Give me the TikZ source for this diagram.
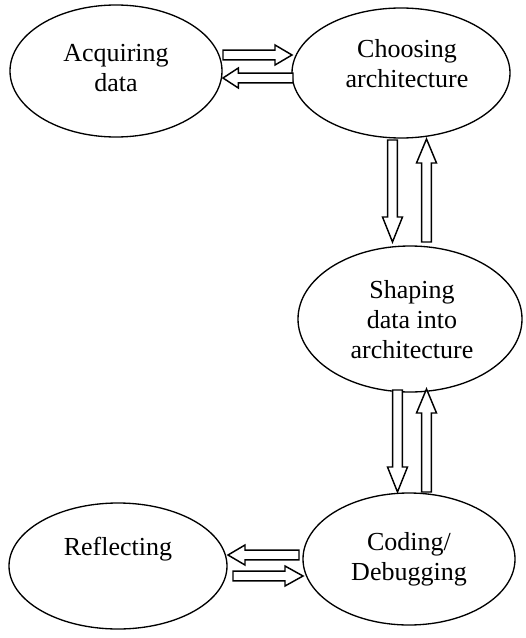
\documentclass[tikz,border=0pt]{standalone}
\usepackage{fontspec}
\setmainfont{Liberation Serif}
\usetikzlibrary{shapes.geometric,calc}

\tikzset{
  stage/.style={draw, ellipse, line width=1pt, inner sep=0pt},
  stagetext/.style={align=center, inner sep=0pt,
    font=\fontsize{19.5}{22.5}\selectfont},
  blockarr/.style={draw, fill=white, line width=1.1pt, line join=miter}
}

% hollow block arrow: [head length]{start}{tip}
\newcommand{\hollowarrow}[3][13pt]{%
  \coordinate (hb) at ($(#3)!#1!(#2)$);
  \draw[blockarr]
    ($(#2)!3.6pt!90:(#3)$) -- ($(hb)!3.6pt!-90:(#2)$) -- ($(hb)!7.5pt!-90:(#2)$)
    -- (#3) -- ($(hb)!7.5pt!90:(#2)$) -- ($(hb)!3.6pt!90:(#2)$)
    -- ($(#2)!3.6pt!-90:(#3)$) -- cycle;
}

\begin{document}
\begin{tikzpicture}[x=0.75pt, y=-0.75pt]
\useasboundingbox (0,0) rectangle (525,638);

% stages
\node[stage, minimum width=159pt, minimum height=99pt] (acq) at (116,71) {};
\node[stage, minimum width=163.5pt, minimum height=97.5pt] (cho) at (401,73) {};
\node[stage, minimum width=168pt, minimum height=109.5pt] (sha) at (410,319) {};
\node[stage, minimum width=159pt, minimum height=99pt] (cod) at (409,559) {};
\node[stage, minimum width=163.5pt, minimum height=94.5pt] (ref) at (118,566) {};

% stage labels, set in the upper part of each ellipse
\node[stagetext] (acqT) at (116,68) {Acquiring\\data};
\node[stagetext] (choT) at (407,64) {Choosing\\architecture};
\node[stagetext] (shaT) at (412,320) {Shaping\\data into\\architecture};
\node[stagetext] (codT) at (409,559) {Coding/\\Debugging};
\node[stagetext] (refT) at (118,549) {Reflecting};

% arrow end points on the ellipse borders
\coordinate (acqR) at (223,55);  \coordinate (choL) at (292,55);
\coordinate (choL2) at (293,78); \coordinate (acqR2) at (223,78);
\coordinate (choB) at (392.5,140); \coordinate (shaTop) at (392.5,242);
\coordinate (shaTop2) at (426.5,242); \coordinate (choB2) at (426.5,139);
\coordinate (shaB) at (397.5,390); \coordinate (codTop) at (397.5,492);
\coordinate (codTop2) at (426.5,492); \coordinate (shaB2) at (426.5,389);
\coordinate (codL) at (299,555); \coordinate (refR) at (228,555);
\coordinate (refR2) at (233,576); \coordinate (codL2) at (303,576);

\hollowarrow[12.75pt]{acqR}{choL}
\hollowarrow[11.5pt]{choL2}{acqR2}
\hollowarrow[18.75pt]{choB}{shaTop}
\hollowarrow[18pt]{shaTop2}{choB2}
\hollowarrow[18.75pt]{shaB}{codTop}
\hollowarrow[18pt]{codTop2}{shaB2}
\hollowarrow[12.75pt]{codL}{refR}
\hollowarrow[13.5pt]{refR2}{codL2}
\end{tikzpicture}
\end{document}
